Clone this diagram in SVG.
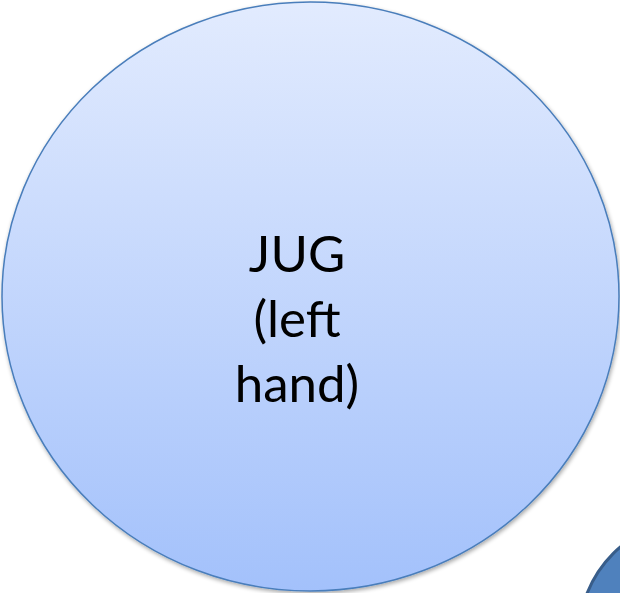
<svg xmlns="http://www.w3.org/2000/svg" width="620" height="593" viewBox="0 0 620 593">
  <defs>
    <linearGradient id="g1" x1="0" y1="0" x2="0" y2="1">
      <stop offset="0" stop-color="#e2ebfe"/>
      <stop offset="1" stop-color="#a3c1fb"/>
    </linearGradient>
    <filter id="sh" x="-5%" y="-5%" width="110%" height="110%">
      <feGaussianBlur in="SourceAlpha" stdDeviation="2"/>
      <feOffset dx="1" dy="2"/>
      <feComponentTransfer><feFuncA type="linear" slope="0.35"/></feComponentTransfer>
      <feMerge><feMergeNode/><feMergeNode in="SourceGraphic"/></feMerge>
    </filter>
    <style>
      .lbl { font-family: Lato, "Liberation Sans", sans-serif; font-size: 51px; fill: #000; text-anchor: middle; }
    </style>
  </defs>
  <rect width="620" height="593" fill="#ffffff"/>
  <g id="connectors"/>
  <g id="jug">
    <ellipse cx="310.5" cy="296.5" rx="308.5" ry="294.5" fill="url(#g1)" stroke="#4a7ebb" stroke-width="1.5" filter="url(#sh)"/>
    <text class="lbl" x="297" y="272">JUG</text>
    <text class="lbl" x="297" y="337">(left</text>
    <text class="lbl" x="297" y="402">hand)</text>
  </g>
  <g id="node2">
    <circle cx="695.5" cy="636" r="116.5" fill="#4f81bd" stroke="#385d8a" stroke-width="3"/>
  </g>
</svg>
